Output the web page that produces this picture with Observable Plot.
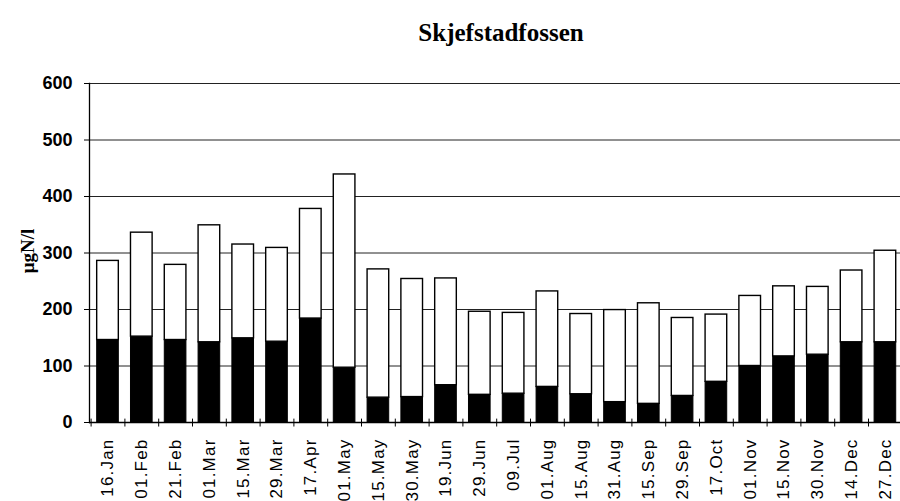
<!DOCTYPE html>
<html>
<head>
<meta charset="utf-8">
<script src="https://cdn.jsdelivr.net/npm/d3@7"></script>
<script src="https://cdn.jsdelivr.net/npm/@observablehq/plot@0.6"></script>
<style>
  html, body { margin: 0; padding: 0; background: #fff; }
  #chart svg { display: block; }
  .xlab text { letter-spacing: 1.2px; }
</style>
</head>
<body>
<div id="chart"></div>
<script>
const title = "Skjefstadfossen";
const yLabel = "μgN/l";
const dates = ["16.Jan","01.Feb","21.Feb","01.Mar","15.Mar","29.Mar","17.Apr","01.May","15.May","30.May","19.Jun","29.Jun","09.Jul","01.Aug","15.Aug","31.Aug","15.Sep","29.Sep","17.Oct","01.Nov","15.Nov","30.Nov","14.Dec","27.Dec"];
const totals = [286,336,279,349,315,309,378,439,271,254,255,196,194,232,192,199,211,185,191,224,241,240,269,304];
const lower  = [146,152,146,142,149,143,184,97,44,45,66,49,51,63,50,36,33,47,72,100,117,120,142,142];
const yTicks = [0,100,200,300,400,500,600];

const rows = dates.map((d, i) => ({date: d, total: totals[i], lower: lower[i]}));

const W = 900, H = 501, mL = 89, mR = 0, mT = 83, mB = 79;
const xRange = [90.6, 901.8];
const step = (xRange[1] - xRange[0]) / dates.length;

const chart = Plot.plot({
  width: W,
  height: H,
  marginLeft: mL,
  marginRight: mR,
  marginTop: mT,
  marginBottom: mB,
  style: {fontFamily: "'Liberation Sans', Arial, sans-serif", color: "#000", background: "#fff"},
  x: {domain: dates, range: xRange, paddingInner: 0.36, paddingOuter: 0.18, round: false},
  y: {domain: [0, 600]},
  marks: [
    Plot.gridY(yTicks.filter(t => t > 0), {stroke: "#222", strokeOpacity: 1, strokeWidth: 1}),
    Plot.barY(rows, {x: "date", y1: 0, y2: "lower", fill: "#000", stroke: "#000", strokeWidth: 1}),
    Plot.barY(rows, {x: "date", y1: "lower", y2: "total", fill: "#fff", stroke: "#000", strokeWidth: 1.4}),
    Plot.frame({anchor: "left", stroke: "#000", strokeWidth: 1.3}),
    Plot.ruleY([0], {stroke: "#000", strokeWidth: 1.3}),
    Plot.ruleX(dates, {x: d => d, y1: -8, y2: 6, dx: -step / 2, stroke: "#000"}),
    Plot.ruleX(dates.slice(-1), {x: d => d, y1: -8, y2: 6, dx: step / 2, stroke: "#000"}),
    Plot.axisY({ticks: yTicks, tickSize: 5, tickPadding: 12, fontSize: 18, fontWeight: "bold", label: null, tickFormat: d => String(d)}),
    Plot.axisX({tickSize: 0, tickRotate: -90, tickPadding: 16, fontSize: 17, label: null, className: "xlab"}),
    Plot.text([yLabel], {frameAnchor: "left", textAnchor: "middle", dx: -62, dy: -2, rotate: -90, fontSize: 19, fontWeight: "bold", fontFamily: "'Liberation Serif', 'Times New Roman', serif", fill: "#000"}),
    Plot.text([title], {frameAnchor: "top", dx: 6, dy: -60, fontSize: 25, fontWeight: "bold", fontFamily: "'Liberation Serif', 'Times New Roman', serif", fill: "#000"})
  ]
});
document.getElementById("chart").appendChild(chart);
</script>
</body>
</html>
